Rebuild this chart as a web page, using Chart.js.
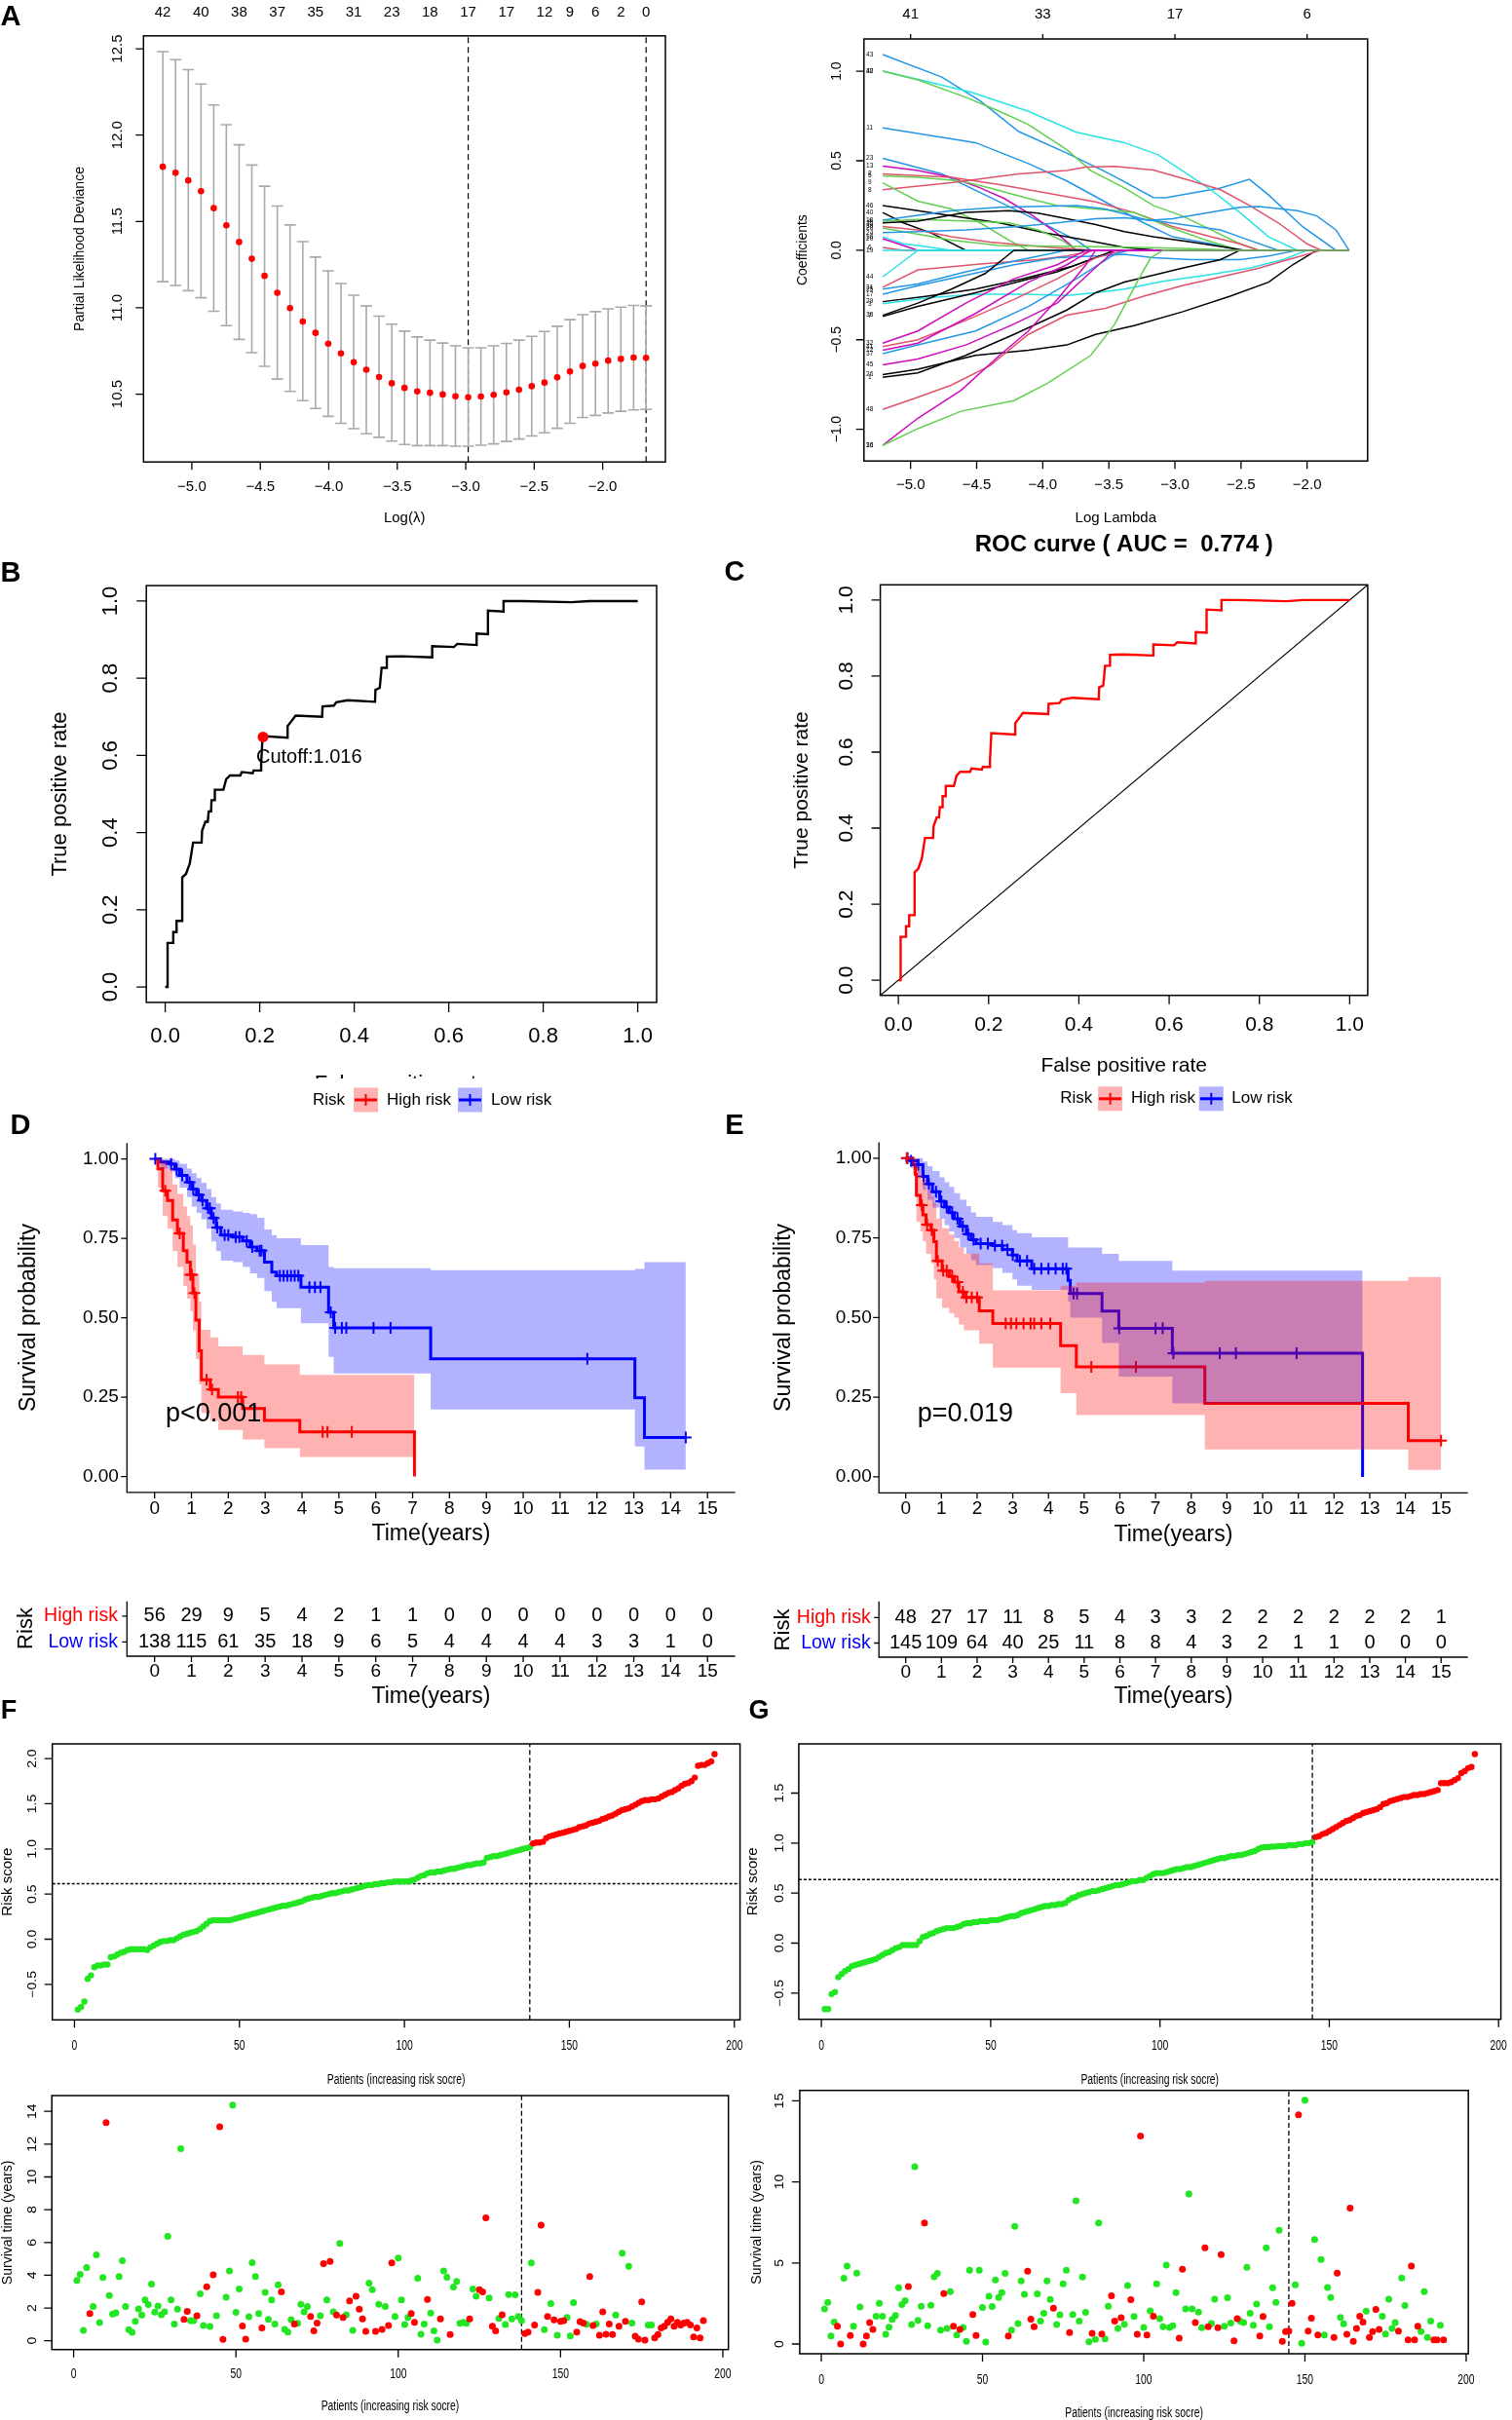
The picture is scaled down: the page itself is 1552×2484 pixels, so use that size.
<!DOCTYPE html>
<html>
<head>
<meta charset="utf-8">
<script src="https://cdn.jsdelivr.net/npm/chart.js@4.4.1/dist/chart.umd.min.js"></script>
<style>
  html, body { margin: 0; padding: 0; background: #fff; }
  #page { position: relative; width: 1552px; height: 2484px; overflow: hidden; background: #fff; }
  #page canvas { position: absolute; }
</style>
</head>
<body>
<div id="page"></div>
<script>
// ---------------- data ----------------

// A (left): cross-validated partial likelihood deviance
const cvLambda = [-5.212, -5.119, -5.026, -4.933, -4.840, -4.748, -4.655, -4.562, -4.469, -4.376,
  -4.283, -4.190, -4.097, -4.004, -3.911, -3.818, -3.726, -3.633, -3.540, -3.447,
  -3.354, -3.261, -3.168, -3.075, -2.982, -2.889, -2.796, -2.703, -2.611, -2.518,
  -2.425, -2.332, -2.239, -2.146, -2.053, -1.960, -1.867, -1.774, -1.683];
const cvMean = [11.817, 11.782, 11.738, 11.675, 11.577, 11.478, 11.381, 11.284, 11.185, 11.087,
  10.998, 10.921, 10.855, 10.792, 10.736, 10.685, 10.641, 10.599, 10.563, 10.536,
  10.516, 10.508, 10.498, 10.488, 10.482, 10.486, 10.496, 10.51, 10.526, 10.546,
  10.567, 10.597, 10.631, 10.663, 10.677, 10.694, 10.704, 10.712, 10.71];
const cvUpper = [12.484, 12.437, 12.379, 12.296, 12.175, 12.06, 11.944, 11.827, 11.704, 11.589,
  11.48, 11.383, 11.294, 11.214, 11.141, 11.073, 11.01, 10.952, 10.905, 10.865,
  10.831, 10.813, 10.796, 10.78, 10.768, 10.768, 10.78, 10.794, 10.813, 10.835,
  10.863, 10.893, 10.931, 10.96, 10.978, 10.994, 11.004, 11.014, 11.01];
const cvLower = [11.151, 11.129, 11.099, 11.058, 10.98, 10.897, 10.817, 10.74, 10.661, 10.587,
  10.516, 10.462, 10.417, 10.371, 10.331, 10.3, 10.27, 10.25, 10.228, 10.208,
  10.202, 10.202, 10.202, 10.198, 10.198, 10.204, 10.212, 10.226, 10.24, 10.258,
  10.276, 10.302, 10.331, 10.365, 10.377, 10.391, 10.401, 10.409, 10.411];
const cvTopLambda = [-5.212, -4.933, -4.655, -4.376, -4.097, -3.818, -3.540, -3.261, -2.982, -2.703, -2.425, -2.239, -2.053, -1.867, -1.683];
const cvTopNzero = [42, 40, 38, 37, 35, 31, 23, 18, 17, 17, 12, 9, 6, 2, 0];
const lambdaMin = -2.982, lambda1se = -1.683;

// A (right): coefficient paths  [label, colour index, [log lambda, coefficient] ...]
const rPalette = ['#000000', '#DF536B', '#61D04F', '#2297E6', '#28E2E5', '#CD0BBC'];
const coefPaths = [
  ['43', 3, [[-5.211, 1.093], [-4.764, 0.967], [-4.473, 0.834], [-4.182, 0.663], [-3.818, 0.543], [-3.491, 0.426], [-3.164, 0.295], [-3.073, 0.293], [-2.655, 0.348], [-2.436, 0.396], [-2.291, 0.309], [-2.036, 0.133], [-1.782, 0]]],
  ['42', 4, [[-5.211, 1.0], [-4.982, 0.961], [-4.545, 0.883], [-4.109, 0.776], [-3.745, 0.659], [-3.382, 0.601], [-3.127, 0.533], [-2.945, 0.445], [-2.727, 0.338], [-2.509, 0.211], [-2.291, 0.075], [-2.073, 0]]],
  ['30', 2, [[-5.211, 1.0], [-4.945, 0.951], [-4.582, 0.854], [-4.327, 0.776], [-4.109, 0.702], [-3.818, 0.562], [-3.636, 0.445], [-3.382, 0.348], [-3.164, 0.25], [-2.945, 0.192], [-2.727, 0.114], [-2.509, 0.036], [-2.364, 0]]],
  ['11', 3, [[-5.211, 0.683], [-4.509, 0.601], [-4.109, 0.484], [-3.818, 0.387], [-3.527, 0.27], [-3.236, 0.153], [-3.018, 0.075], [-2.727, 0.036], [-2.509, 0]]],
  ['23', 3, [[-5.211, 0.513], [-4.764, 0.426], [-4.436, 0.309], [-4.109, 0.192], [-3.745, 0.056], [-3.636, 0]]],
  ['13', 5, [[-5.211, 0.47], [-4.945, 0.445], [-4.691, 0.407], [-4.473, 0.348], [-4.291, 0.289], [-4.073, 0.192], [-3.891, 0.094], [-3.745, 0]]],
  ['2', 1, [[-5.211, 0.426], [-4.691, 0.407], [-4.327, 0.367], [-3.964, 0.319], [-3.6, 0.27], [-3.309, 0.211], [-3.018, 0.133], [-2.727, 0.075], [-2.509, 0.036], [-2.364, 0]]],
  ['5', 2, [[-5.211, 0.416], [-4.945, 0.407], [-4.618, 0.387], [-4.4, 0.348], [-4.109, 0.289], [-3.891, 0.25], [-3.6, 0.231], [-3.309, 0.211], [-3.055, 0.133], [-2.764, 0.056], [-2.509, 0]]],
  ['8', 1, [[-5.211, 0.338], [-4.691, 0.377], [-4.182, 0.426], [-3.818, 0.445], [-3.673, 0.464], [-3.455, 0.468], [-3.164, 0.448], [-2.873, 0.387], [-2.655, 0.338], [-2.436, 0.25], [-2.218, 0.153], [-2.0, 0.036], [-1.891, 0]]],
  ['9', 2, [[-5.211, 0.377], [-4.945, 0.274], [-4.691, 0.231], [-4.473, 0.153], [-4.255, 0.056], [-4.109, 0]]],
  ['46', 0, [[-5.211, 0.25], [-4.945, 0.221], [-4.691, 0.192], [-4.327, 0.153], [-3.964, 0.094], [-3.673, 0.056], [-3.382, 0.016], [-3.127, 0]]],
  ['40', 0, [[-5.211, 0.211], [-5.055, 0.153], [-4.836, 0.094], [-4.582, 0]]],
  ['18', 3, [[-5.211, 0.168], [-4.691, 0.221], [-4.327, 0.24], [-3.745, 0.25], [-3.527, 0.231], [-3.2, 0.167], [-3.018, 0.176], [-2.509, 0.24], [-2.364, 0.244], [-2.073, 0.221], [-1.927, 0.192], [-1.782, 0.114], [-1.683, 0]]],
  ['4', 2, [[-5.211, 0.163], [-4.945, 0.172], [-4.545, 0.163], [-4.255, 0.153], [-4.036, 0.114], [-3.855, 0.056], [-3.745, 0]]],
  ['35', 0, [[-5.211, 0.153], [-4.945, 0.163], [-4.582, 0.211], [-4.255, 0.221], [-4.036, 0.207], [-3.818, 0.176], [-3.6, 0.143], [-3.382, 0.104], [-3.164, 0.075], [-2.873, 0.046], [-2.582, 0.013], [-2.473, 0]]],
  ['39', 1, [[-5.211, 0.133], [-4.945, 0.114], [-4.691, 0.075], [-4.4, 0.046], [-4.109, 0.026], [-3.891, 0.013], [-3.6, 0]]],
  ['28', 2, [[-5.211, 0.124], [-4.691, 0.056], [-4.327, 0.026], [-3.6, 0.02], [-3.236, 0.016], [-2.873, 0.009], [-2.509, 0]]],
  ['24', 3, [[-5.211, 0.098], [-4.945, 0.104], [-4.582, 0.114], [-4.182, 0.133], [-3.891, 0.153], [-3.6, 0.176], [-3.382, 0.182], [-3.164, 0.167], [-2.655, 0.114], [-2.509, 0.075], [-2.218, 0]]],
  ['16', 4, [[-5.211, 0.075], [-5.055, 0.036], [-4.945, 0.026], [-4.691, 0]]],
  ['20', 5, [[-5.211, 0.065], [-4.945, 0]]],
  ['6', 1, [[-5.211, 0.016], [-5.055, 0]]],
  ['19', 4, [[-5.211, 0]]],
  ['44', 4, [[-5.211, -0.149], [-4.945, 0]]],
  ['31', 1, [[-5.211, -0.207], [-4.945, -0.11], [-4.473, -0.077], [-4.036, -0.052], [-3.818, -0.032], [-3.6, 0]]],
  ['25', 3, [[-5.211, -0.217], [-4.945, -0.188], [-4.582, -0.12], [-4.218, -0.061], [-3.964, -0.022], [-3.818, 0]]],
  ['17', 3, [[-5.211, -0.246], [-4.945, -0.198], [-4.582, -0.139], [-4.218, -0.081], [-3.891, -0.042], [-3.6, -0.032], [-3.382, -0.022], [-3.164, -0.042], [-2.873, -0.052], [-2.509, -0.052], [-2.291, -0.032], [-2.073, 0]]],
  ['29', 0, [[-5.211, -0.287], [-4.873, -0.256], [-4.509, -0.217], [-4.145, -0.159], [-3.782, -0.091], [-3.455, 0]]],
  ['3', 4, [[-5.211, -0.299], [-4.873, -0.266], [-4.509, -0.246], [-4.145, -0.246], [-3.818, -0.252], [-3.6, -0.237], [-3.382, -0.217], [-3.091, -0.174], [-2.764, -0.139], [-2.436, -0.1], [-2.182, -0.052], [-2.0, 0]]],
  ['38', 0, [[-5.211, -0.363], [-4.945, -0.295], [-4.691, -0.217], [-4.436, -0.13], [-4.218, 0]]],
  ['7', 0, [[-5.211, -0.369], [-4.945, -0.314], [-4.509, -0.237], [-4.145, -0.168], [-3.891, -0.12], [-3.6, -0.042], [-3.455, 0]]],
  ['32', 5, [[-5.211, -0.519], [-4.945, -0.451], [-4.582, -0.295], [-4.218, -0.159], [-3.891, -0.081], [-3.673, 0]]],
  ['41', 1, [[-5.211, -0.538], [-4.945, -0.5], [-4.582, -0.392], [-4.218, -0.275], [-3.891, -0.159], [-3.6, -0.042], [-3.382, 0]]],
  ['12', 5, [[-5.211, -0.558], [-4.945, -0.519], [-4.509, -0.353], [-4.109, -0.178], [-3.818, -0.081], [-3.636, 0]]],
  ['37', 3, [[-5.211, -0.577], [-4.945, -0.529], [-4.509, -0.451], [-4.109, -0.314], [-3.745, -0.159], [-3.455, -0.022], [-3.345, 0]]],
  ['45', 5, [[-5.211, -0.64], [-4.945, -0.607], [-4.582, -0.529], [-4.218, -0.412], [-3.891, -0.295], [-3.636, -0.12], [-3.455, 0]]],
  ['26', 0, [[-5.211, -0.694], [-4.945, -0.665], [-4.509, -0.587], [-4.109, -0.558], [-3.818, -0.529], [-3.6, -0.47], [-3.309, -0.421], [-2.945, -0.344], [-2.582, -0.256], [-2.291, -0.178], [-2.109, -0.081], [-1.927, 0]]],
  ['1', 0, [[-5.211, -0.71], [-4.945, -0.685], [-4.582, -0.587], [-4.218, -0.47], [-3.818, -0.334], [-3.6, -0.237], [-3.382, -0.178], [-3.164, -0.139], [-2.945, -0.1], [-2.655, -0.052], [-2.509, 0]]],
  ['48', 1, [[-5.211, -0.889], [-4.945, -0.821], [-4.691, -0.753], [-4.4, -0.645], [-4.109, -0.47], [-3.818, -0.363], [-3.527, -0.324], [-3.236, -0.256], [-2.945, -0.198], [-2.655, -0.149], [-2.364, -0.1], [-2.145, -0.052], [-1.891, 0]]],
  ['36', 5, [[-5.211, -1.09], [-4.945, -0.938], [-4.618, -0.782], [-4.327, -0.587], [-4.109, -0.451], [-3.891, -0.275], [-3.673, -0.081], [-3.6, 0]]],
  ['10', 2, [[-5.211, -1.09], [-4.945, -0.996], [-4.618, -0.899], [-4.218, -0.84], [-3.964, -0.743], [-3.636, -0.587], [-3.455, -0.412], [-3.273, -0.159], [-3.182, -0.042], [-3.091, 0]]]
];
const pathTopLambda = [-5, -4, -3, -2];
const pathTopNzero = [41, 33, 17, 6];

// B / C: ROC curve
const rocFpr = [0, 0.005, 0.005, 0.017, 0.017, 0.024, 0.024, 0.036, 0.036, 0.044,
  0.052, 0.059, 0.077, 0.078, 0.085, 0.09, 0.092, 0.097, 0.098, 0.104,
  0.105, 0.123, 0.129, 0.137, 0.159, 0.162, 0.185, 0.187, 0.203, 0.203,
  0.206, 0.259, 0.259, 0.276, 0.332, 0.333, 0.357, 0.362, 0.386, 0.444,
  0.445, 0.454, 0.458, 0.469, 0.469, 0.5, 0.565, 0.565, 0.611, 0.618,
  0.659, 0.659, 0.683, 0.683, 0.716, 0.716, 0.757, 0.859, 0.898, 1.0];
const rocTpr = [0, 0, 0.114, 0.114, 0.142, 0.142, 0.171, 0.171, 0.284, 0.293,
  0.32, 0.374, 0.374, 0.405, 0.428, 0.428, 0.455, 0.455, 0.484, 0.484,
  0.511, 0.511, 0.538, 0.548, 0.548, 0.557, 0.554, 0.561, 0.561, 0.577,
  0.65, 0.646, 0.676, 0.703, 0.7, 0.727, 0.729, 0.738, 0.743, 0.739,
  0.77, 0.775, 0.827, 0.827, 0.856, 0.857, 0.854, 0.883, 0.881, 0.889,
  0.886, 0.916, 0.914, 0.975, 0.973, 1.0, 1.0, 0.997, 1.0, 1.0];
const cutoffPoint = [0.207, 0.648];
const cutoffValue = '1.016';
const aucValue = '0.774';

// D: Kaplan-Meier, training set
const kmDHighT = [0, 0.09, 0.22, 0.35, 0.49, 0.62, 0.78, 0.88, 0.97, 1.04, 1.12, 1.21, 1.27, 1.51, 1.73, 2.39, 2.98, 3.94, 7.05];
const kmDHighS = [1, 0.969, 0.9, 0.869, 0.808, 0.766, 0.711, 0.675, 0.635, 0.578, 0.493, 0.396, 0.305, 0.274, 0.25, 0.214, 0.177, 0.141, 0];
const kmDHighU = [1, 1, 0.99, 0.97, 0.92, 0.89, 0.85, 0.82, 0.79, 0.73, 0.64, 0.55, 0.462, 0.438, 0.41, 0.383, 0.353, 0.32, 0.32];
const kmDHighL = [1, 0.91, 0.82, 0.78, 0.71, 0.66, 0.6, 0.56, 0.52, 0.46, 0.37, 0.29, 0.2, 0.175, 0.147, 0.117, 0.089, 0.062, 0.062];
const kmDHighCens = [0.29, 0.68, 0.97, 1.01, 1.08, 1.41, 1.56, 2.26, 2.35, 4.56, 4.69, 5.35];
const kmDLowT = [0, 0.16, 0.42, 0.55, 0.68, 0.88, 1.01, 1.14, 1.27, 1.41, 1.54, 1.67, 1.8, 2.13, 2.39, 2.59, 2.78, 2.98, 3.18, 3.31, 3.97, 4.72, 4.86, 7.49, 13.03, 13.29, 14.41];
const kmDLowS = [1, 0.99, 0.984, 0.968, 0.948, 0.927, 0.905, 0.887, 0.869, 0.845, 0.814, 0.784, 0.76, 0.754, 0.742, 0.723, 0.711, 0.675, 0.644, 0.632, 0.596, 0.517, 0.468, 0.371, 0.248, 0.123, 0.123];
const kmDLowU = [1, 1, 1, 0.995, 0.985, 0.97, 0.955, 0.94, 0.925, 0.905, 0.88, 0.86, 0.84, 0.835, 0.83, 0.826, 0.815, 0.778, 0.76, 0.75, 0.729, 0.66, 0.656, 0.65, 0.654, 0.675, 0.675];
const kmDLowL = [1, 0.97, 0.96, 0.94, 0.91, 0.88, 0.85, 0.83, 0.81, 0.78, 0.74, 0.71, 0.68, 0.675, 0.66, 0.64, 0.625, 0.584, 0.55, 0.53, 0.483, 0.377, 0.325, 0.211, 0.095, 0.022, 0.022];
const kmDLowCens = [0.02, 0.45, 0.6, 0.75, 0.95, 1.05, 1.2, 1.3, 1.45, 1.5, 1.6, 1.7, 1.9, 2.0, 2.2, 2.3, 2.5, 2.65, 2.85, 2.9, 3.4, 3.5, 3.6, 3.7, 3.8, 3.9, 4.2, 4.35, 4.5, 4.78, 4.9, 5.08, 5.2, 5.94, 6.4, 11.74, 14.41];

// E: Kaplan-Meier, test set
const kmEHighT = [0, 0.2, 0.27, 0.3, 0.41, 0.48, 0.57, 0.71, 0.79, 0.86, 1.02, 1.22, 1.36, 1.49, 1.63, 2.06, 2.44, 4.34, 4.78, 8.38, 14.08, 15.0];
const kmEHighS = [1, 0.98, 0.949, 0.883, 0.853, 0.822, 0.792, 0.774, 0.738, 0.678, 0.647, 0.629, 0.611, 0.581, 0.563, 0.521, 0.481, 0.412, 0.345, 0.231, 0.114, 0.114];
const kmEHighU = [1, 1, 1, 0.97, 0.95, 0.93, 0.9, 0.88, 0.86, 0.81, 0.78, 0.76, 0.74, 0.72, 0.7, 0.67, 0.585, 0.6, 0.61, 0.615, 0.627, 0.627];
const kmEHighL = [1, 0.95, 0.9, 0.8, 0.77, 0.74, 0.7, 0.67, 0.62, 0.56, 0.53, 0.514, 0.5, 0.478, 0.46, 0.418, 0.343, 0.263, 0.194, 0.086, 0.022, 0.022];
const kmEHighCens = [0.03, 0.45, 0.6, 0.73, 0.9, 1.05, 1.15, 1.3, 1.45, 1.6, 1.7, 1.85, 2.0, 2.8, 2.95, 3.1, 3.3, 3.5, 3.6, 3.8, 4.05, 5.2, 6.45, 15.0];
const kmELowT = [0, 0.14, 0.34, 0.48, 0.61, 0.75, 0.95, 1.09, 1.22, 1.36, 1.52, 1.7, 1.83, 1.97, 2.44, 2.71, 2.99, 3.12, 3.53, 4.55, 4.61, 5.5, 5.97, 7.47, 12.8];
const kmELowS = [1, 0.992, 0.98, 0.943, 0.919, 0.895, 0.865, 0.847, 0.829, 0.81, 0.786, 0.762, 0.744, 0.732, 0.726, 0.714, 0.696, 0.678, 0.653, 0.617, 0.575, 0.52, 0.466, 0.388, 0];
const kmELowU = [1, 1, 1, 0.99, 0.975, 0.96, 0.94, 0.925, 0.91, 0.89, 0.87, 0.85, 0.83, 0.816, 0.8, 0.79, 0.774, 0.765, 0.752, 0.72, 0.72, 0.7, 0.678, 0.647, 0.647];
const kmELowL = [1, 0.97, 0.95, 0.9, 0.87, 0.845, 0.81, 0.79, 0.77, 0.75, 0.72, 0.7, 0.68, 0.665, 0.655, 0.64, 0.62, 0.6, 0.587, 0.55, 0.5, 0.42, 0.315, 0.231, 0.231];
const kmELowCens = [0.05, 0.15, 0.35, 0.5, 0.65, 0.85, 1.0, 1.15, 1.3, 1.45, 1.6, 1.75, 1.9, 2.1, 2.3, 2.5, 2.7, 2.85, 3.0, 3.2, 3.4, 3.6, 3.8, 4.0, 4.2, 4.4, 4.5, 4.7, 4.8, 5.98, 7.0, 7.2, 7.5, 8.8, 9.25, 10.95];

// risk tables
const tabTimes = [0, 1, 2, 3, 4, 5, 6, 7, 8, 9, 10, 11, 12, 13, 14, 15];
const tabDHigh = [56, 29, 9, 5, 4, 2, 1, 1, 0, 0, 0, 0, 0, 0, 0, 0];
const tabDLow = [138, 115, 61, 35, 18, 9, 6, 5, 4, 4, 4, 4, 3, 3, 1, 0];
const tabEHigh = [48, 27, 17, 11, 8, 5, 4, 3, 3, 2, 2, 2, 2, 2, 2, 1];
const tabELow = [145, 109, 64, 40, 25, 11, 8, 8, 4, 3, 2, 1, 1, 0, 0, 0];

// F: training set risk score (sorted), survival time and status (1 = dead)
const riskF = [-0.78, -0.75, -0.69, -0.44, -0.4, -0.31, -0.29, -0.29, -0.28, -0.28,
  -0.2, -0.19, -0.17, -0.15, -0.14, -0.12, -0.11, -0.11, -0.11, -0.11,
  -0.11, -0.12, -0.09, -0.07, -0.05, -0.03, -0.02, -0.02, -0.01, -0.01,
  0.01, 0.03, 0.05, 0.06, 0.07, 0.08, 0.09, 0.11, 0.14, 0.17,
  0.2, 0.21, 0.21, 0.21, 0.21, 0.21, 0.21, 0.22, 0.23, 0.24,
  0.25, 0.26, 0.27, 0.28, 0.29, 0.3, 0.31, 0.32, 0.33, 0.34,
  0.35, 0.36, 0.37, 0.37, 0.38, 0.39, 0.4, 0.41, 0.42, 0.44,
  0.45, 0.46, 0.47, 0.47, 0.48, 0.49, 0.5, 0.51, 0.51, 0.52,
  0.53, 0.54, 0.54, 0.55, 0.56, 0.57, 0.58, 0.59, 0.6, 0.6,
  0.61, 0.61, 0.62, 0.62, 0.63, 0.63, 0.64, 0.64, 0.64, 0.64,
  0.64, 0.65, 0.66, 0.68, 0.7, 0.71, 0.73, 0.74, 0.74, 0.75,
  0.75, 0.76, 0.77, 0.78, 0.78, 0.79, 0.8, 0.81, 0.82, 0.82,
  0.83, 0.84, 0.84, 0.85, 0.9, 0.91, 0.92, 0.92, 0.93, 0.94,
  0.95, 0.96, 0.97, 0.98, 0.99, 1.0, 1.01, 1.02,
  1.06, 1.07, 1.07, 1.08, 1.12, 1.14, 1.15, 1.16, 1.17, 1.18, 1.19, 1.2,
  1.21, 1.22, 1.24, 1.25, 1.26, 1.28, 1.29, 1.3, 1.31, 1.33,
  1.34, 1.36, 1.37, 1.39, 1.41, 1.43, 1.44, 1.45, 1.47, 1.49,
  1.51, 1.53, 1.54, 1.54, 1.55, 1.55, 1.56, 1.58, 1.6, 1.62,
  1.63, 1.65, 1.67, 1.7, 1.72, 1.73, 1.75, 1.79, 1.92, 1.93,
  1.93, 1.95, 1.97, 2.05];
const lowCountF = 138, cutLineF = 0.615;
const timeF = [3.68, 4.06, 0.64, 4.47, 1.67, 2.09, 5.25, 1.11, 3.86, 13.32,
  2.76, 1.63, 1.71, 3.92, 4.89, 2.09, 0.68, 0.52, 1.19, 1.95,
  1.57, 2.5, 2.21, 3.46, 1.75, 2.13, 1.59, 1.77, 6.38, 2.5,
  1.03, 1.93, 11.73, 1.31, 1.79, 1.23, 1.23, 1.53, 2.86, 0.93,
  3.3, 0.87, 4.02, 1.53, 13.06, 0.08, 2.66, 4.27, 14.39, 1.73,
  3.16, 0.91, 0.1, 1.47, 4.77, 3.92, 1.67, 0.78, 2.96, 1.31,
  2.5, 1.03, 3.42, 2.98, 0.7, 0.54, 1.29, 1.03, 1.07, 2.23,
  1.77, 2.09, 1.49, 0.6, 1.09, 1.53, 4.71, 2.5, 4.85, 1.77,
  1.57, 5.94, 1.43, 1.59, 2.43, 0.64, 2.72, 1.93, 1.33, 0.58,
  3.52, 3.12, 0.58, 2.23, 0.7, 2.09, 0.93, 4.75, 1.49, 5.05,
  2.49, 0.99, 1.43, 1.67, 1.13, 3.82, 0.4, 1.03, 2.52, 1.69,
  0.6, 0.04, 1.33, 4.27, 3.88, 0.38, 3.28, 3.62, 1.07, 1.13,
  1.07, 1.33, 3.16, 2.72, 3.12, 2.98, 7.5, 2.62, 0.89, 0.6,
  1.37, 1.59, 0.99, 2.82, 1.33, 2.8, 1.49, 1.23, 0.44, 0.54,
  4.75, 0.97, 2.96, 7.06, 0.68, 1.49, 2.27, 1.27, 0.34, 1.19,
  1.23, 1.43, 0.3, 2.33, 0.54, 1.17, 1.09, 1.01, 3.92, 0.93,
  1.03, 0.34, 1.77, 0.4, 1.03, 0.38, 1.57, 0.89, 5.35, 1.19,
  4.55, 1.09, 0.28, 0.1, 2.37, 0.04, 0.97, 0.97, 0.18, 0.38,
  0.78, 0.89, 1.13, 1.33, 0.89, 1.13, 0.97, 1.09, 1.13, 0.97,
  0.24, 0.78, 0.18, 1.23];
const statusF = [0, 0, 0, 0, 1, 0, 0, 0, 0, 1,
  0, 0, 0, 0, 0, 0, 0, 0, 0, 0,
  0, 0, 0, 0, 0, 0, 0, 0, 0, 0,
  0, 0, 0, 1, 1, 0, 0, 1, 0, 0,
  1, 0, 1, 0, 1, 1, 0, 0, 0, 0,
  0, 1, 1, 0, 0, 0, 0, 1, 0, 0,
  0, 0, 0, 1, 0, 0, 0, 1, 0, 0,
  0, 0, 1, 1, 1, 0, 1, 0, 1, 0,
  1, 0, 1, 0, 1, 0, 1, 1, 1, 1,
  0, 0, 1, 0, 1, 0, 1, 1, 0, 0,
  0, 0, 0, 1, 1, 0, 0, 0, 1, 0,
  0, 0, 1, 0, 0, 1, 0, 0, 0, 0,
  0, 1, 0, 0, 1, 1, 1, 0, 1, 1,
  0, 1, 0, 0, 0, 0, 0, 0, 1, 1,
  0, 1, 1, 1, 0, 1, 0, 1, 0, 1,
  1, 0, 0, 0, 1, 1, 1, 0, 1, 1,
  0, 1, 1, 1, 1, 1, 0, 1, 0, 1,
  0, 0, 1, 1, 1, 1, 0, 0, 1, 1,
  1, 1, 1, 1, 1, 1, 1, 1, 1, 1,
  1, 1, 1, 1];

// G: test set
const riskG = [-0.66, -0.66, -0.51, -0.49, -0.34, -0.31, -0.28, -0.26, -0.23, -0.22,
  -0.21, -0.2, -0.19, -0.18, -0.17, -0.16, -0.14, -0.12, -0.1, -0.09,
  -0.07, -0.05, -0.04, -0.02, -0.02, -0.02, -0.02, -0.02, 0.02, 0.06,
  0.07, 0.09, 0.1, 0.12, 0.13, 0.14, 0.15, 0.15, 0.15, 0.16,
  0.17, 0.19, 0.2, 0.2, 0.21, 0.21, 0.22, 0.22, 0.22, 0.23,
  0.23, 0.23, 0.24, 0.25, 0.26, 0.27, 0.27, 0.28, 0.3, 0.31,
  0.32, 0.33, 0.34, 0.35, 0.36, 0.37, 0.37, 0.38, 0.38, 0.39,
  0.39, 0.4, 0.43, 0.45, 0.46, 0.48, 0.49, 0.5, 0.51, 0.52,
  0.52, 0.53, 0.54, 0.55, 0.56, 0.57, 0.58, 0.58, 0.59, 0.6,
  0.61, 0.62, 0.62, 0.63, 0.63, 0.65, 0.67, 0.69, 0.7, 0.7,
  0.7, 0.71, 0.72, 0.73, 0.74, 0.74, 0.75, 0.76, 0.76, 0.77,
  0.78, 0.79, 0.8, 0.81, 0.82, 0.83, 0.84, 0.85, 0.85, 0.86,
  0.87, 0.87, 0.88, 0.88, 0.89, 0.9, 0.91, 0.92, 0.94, 0.955,
  0.96, 0.96, 0.965, 0.965, 0.97, 0.97, 0.97, 0.98, 0.98, 0.98,
  0.99, 0.99, 1.0, 1.0, 1.01,
  1.06, 1.07, 1.09, 1.1, 1.12,
  1.14, 1.16, 1.18, 1.2, 1.22, 1.23, 1.25, 1.27, 1.28, 1.3,
  1.31, 1.32, 1.33, 1.34, 1.36, 1.39, 1.4, 1.42, 1.43, 1.44,
  1.45, 1.46, 1.46, 1.47, 1.48, 1.48, 1.49, 1.49, 1.5, 1.51,
  1.52, 1.53, 1.6, 1.6, 1.6, 1.61, 1.63, 1.65, 1.7, 1.72,
  1.75, 1.76, 1.89];
const lowCountG = 145, cutLineG = 0.635;
const timeG = [2.17, 2.57, 0.5, 1.36, 1.1, 0.0, 4.05, 4.81, 0.52, 1.1,
  4.37, 2.29, 0.0, 0.5, 1.32, 0.9, 1.72, 2.51, 1.72, 0.6,
  1.04, 1.52, 1.76, 3.47, 2.43, 2.67, 3.55, 1.2, 10.93, 1.46,
  2.33, 7.46, 1.12, 2.39, 4.15, 4.35, 0.86, 3.11, 0.96, 3.23,
  1.1, 0.56, 0.9, 1.02, 0.16, 4.55, 1.82, 0.52, 4.55, 2.25,
  0.12, 2.95, 2.31, 3.95, 2.87, 3.17, 4.35, 0.5, 0.86, 7.26,
  1.26, 3.89, 3.07, 4.49, 1.54, 1.06, 3.09, 1.42, 1.9, 3.89,
  2.75, 2.21, 1.2, 1.8, 3.71, 4.55, 0.7, 1.82, 8.84, 1.42,
  4.13, 1.95, 0.14, 0.66, 0.28, 7.46, 0.62, 0.32, 2.33, 2.97,
  1.42, 0.96, 1.62, 1.22, 3.61, 2.73, 1.7, 0.6, 12.83, 1.02,
  0.56, 2.05, 1.72, 3.71, 1.56, 1.06, 4.87, 1.02, 1.12, 3.17,
  0.36, 4.61, 2.17, 9.26, 2.17, 1.32, 1.97, 1.0, 5.94, 1.06,
  1.26, 2.77, 1.0, 5.51, 1.1, 2.85, 1.3, 0.2, 1.56, 1.4,
  1.32, 4.73, 1.9, 1.16, 2.47, 0.5, 1.7, 5.94, 1.06, 3.47,
  2.57, 7.02, 0.16, 0.76, 0.8, 2.51, 3.65, 14.14, 0.04, 15.04,
  0.8, 1.6, 6.44, 0.56, 5.21, 0.56, 3.49, 2.87, 0.4, 4.37,
  1.64, 1.24, 0.6, 8.38, 0.16, 0.96, 1.72, 1.36, 2.03, 0.4,
  0.76, 2.13, 0.9, 1.72, 0.62, 2.77, 0.96, 1.32, 0.8, 4.07,
  2.37, 0.26, 4.81, 0.26, 1.1, 0.76, 3.23, 0.4, 1.42, 0.26,
  0.26, 1.16, 0.26];
const statusG = [0, 0, 0, 0, 1, 1, 0, 0, 1, 0,
  0, 0, 1, 1, 1, 1, 0, 0, 0, 0,
  0, 0, 0, 0, 0, 0, 1, 0, 0, 0,
  0, 1, 0, 0, 0, 0, 0, 1, 0, 0,
  1, 0, 1, 0, 0, 0, 1, 1, 0, 0,
  0, 0, 0, 0, 0, 0, 0, 1, 0, 0,
  0, 0, 0, 1, 1, 1, 0, 0, 0, 0,
  0, 1, 0, 0, 0, 0, 1, 0, 0, 0,
  0, 0, 0, 1, 0, 0, 1, 0, 0, 1,
  1, 0, 1, 0, 0, 1, 0, 1, 1, 0,
  1, 0, 1, 0, 0, 0, 0, 0, 0, 0,
  1, 1, 0, 0, 0, 1, 0, 0, 1, 1,
  0, 0, 1, 1, 0, 0, 0, 1, 1, 0,
  0, 0, 0, 0, 0, 1, 1, 0, 0, 0,
  0, 0, 1, 1, 1, 1, 0, 1, 0, 0,
  1, 1, 0, 1, 0, 0, 0, 0, 1, 1,
  0, 0, 1, 1, 1, 1, 1, 1, 0, 1,
  1, 1, 1, 0, 0, 0, 0, 0, 1, 0,
  0, 1, 1, 1, 1, 0, 0, 0, 0, 1,
  1, 0, 1];

// ---------------- drawing helpers ----------------
const FONT = "'Liberation Sans', Arial, Helvetica, sans-serif";
const RED = '#FF0000', BLUE = '#0000FF', GREEN = '#22E622';
const page = document.getElementById('page');

const pts = (xs, ys) => xs.map((x, i) => ({ x: x, y: ys[i] }));
const minus = s => String(s).replace('-', '\u2212');

function T(ctx, s, x, y, size, o) {
  o = o || {};
  ctx.save();
  ctx.translate(x, y);
  if (o.sx) ctx.scale(o.sx, 1);
  if (o.rot) ctx.rotate(o.rot);
  ctx.font = (o.bold ? 'bold ' : '') + size + 'px ' + FONT;
  ctx.fillStyle = o.color || '#000';
  ctx.textAlign = o.align || 'center';
  ctx.textBaseline = o.base || 'middle';
  ctx.fillText(s, 0, 0);
  ctx.restore();
}

function lineDs(data, color, width, extra) {
  return Object.assign({ data: data, showLine: true, borderColor: color, borderWidth: width,
    pointRadius: 0, fill: false, spanGaps: false }, extra || {});
}
function dotDs(data, color, r, extra) {
  return Object.assign({ data: data, showLine: false, pointRadius: r, pointBackgroundColor: color,
    pointBorderColor: color, pointBorderWidth: 0 }, extra || {});
}

// one canvas per panel; the plot box is placed through the layout padding
function panel(rect, box, xr, yr, datasets, draw) {
  const cv = document.createElement('canvas');
  cv.width = rect[2]; cv.height = rect[3];
  cv.style.left = rect[0] + 'px'; cv.style.top = rect[1] + 'px';
  cv.style.width = rect[2] + 'px'; cv.style.height = rect[3] + 'px';
  page.appendChild(cv);
  return new Chart(cv, {
    type: 'scatter',
    data: { datasets: datasets },
    options: {
      responsive: false, animation: false, devicePixelRatio: 1, events: [],
      layout: { padding: { left: box[0] - rect[0], top: box[1] - rect[1],
        right: rect[0] + rect[2] - box[2], bottom: rect[1] + rect[3] - box[3] } },
      plugins: { legend: { display: false }, tooltip: { enabled: false } },
      scales: {
        x: { type: 'linear', min: xr[0], max: xr[1], display: false },
        y: { type: 'linear', min: yr[0], max: yr[1], display: false }
      }
    },
    plugins: [{
      id: 'rdraw',
      afterDraw(ch) {
        const ctx = ch.ctx, a = ch.chartArea, sx = ch.scales.x, sy = ch.scales.y;
        const h = {
          X: v => sx.getPixelForValue(v) + rect[0], Y: v => sy.getPixelForValue(v) + rect[1],
          l: a.left + rect[0], r: a.right + rect[0], t: a.top + rect[1], b: a.bottom + rect[1]
        };
        ctx.save();
        ctx.translate(-rect[0], -rect[1]);
        draw(ctx, h);
        ctx.restore();
      }
    }]
  });
}

function rBox(ctx, h, lw) {
  ctx.lineWidth = lw; ctx.strokeStyle = '#000';
  ctx.strokeRect(h.l, h.t, h.r - h.l, h.b - h.t);
}
function rBottom(ctx, h, vals, labs, o) {
  ctx.lineWidth = o.lw || 1.3; ctx.strokeStyle = '#000';
  ctx.beginPath();
  vals.forEach(v => { ctx.moveTo(h.X(v), h.b); ctx.lineTo(h.X(v), h.b + o.len); });
  ctx.stroke();
  vals.forEach((v, i) => T(ctx, labs[i], h.X(v), o.at, o.size, { sx: o.sx }));
}
function rLeft(ctx, h, vals, labs, o) {
  ctx.lineWidth = o.lw || 1.3; ctx.strokeStyle = '#000';
  ctx.beginPath();
  vals.forEach(v => { ctx.moveTo(h.l, h.Y(v)); ctx.lineTo(h.l - o.len, h.Y(v)); });
  ctx.stroke();
  vals.forEach((v, i) => T(ctx, labs[i], o.at, h.Y(v), o.size, { sx: o.sx, rot: -Math.PI / 2 }));
}
function stepAt(ts, ss, t) {
  let v = ss[0];
  for (let i = 0; i < ts.length; i++) if (ts[i] <= t) v = ss[i];
  return v;
}

// ---------------- A (left): CV deviance ----------------
(function () {
  const xr = [-5.353, -1.542], yr = [10.107, 12.575], cap = 0.042;
  const bars = [];
  cvLambda.forEach((l, i) => {
    bars.push({ x: l, y: cvLower[i] }, { x: l, y: cvUpper[i] }, { x: l, y: null });
    bars.push({ x: l - cap, y: cvUpper[i] }, { x: l + cap, y: cvUpper[i] }, { x: l, y: null });
    bars.push({ x: l - cap, y: cvLower[i] }, { x: l + cap, y: cvLower[i] }, { x: l, y: null });
  });
  const ds = [
    dotDs(pts(cvLambda, cvMean), RED, 3.3),
    lineDs(bars, '#A9A9A9', 1.6),
    lineDs([{ x: lambdaMin, y: yr[0] }, { x: lambdaMin, y: yr[1] }], '#000', 1.2, { borderDash: [6, 4] }),
    lineDs([{ x: lambda1se, y: yr[0] }, { x: lambda1se, y: yr[1] }], '#000', 1.2, { borderDash: [6, 4] })
  ];
  const xt = [-5, -4.5, -4, -3.5, -3, -2.5, -2], yt = [10.5, 11, 11.5, 12, 12.5];
  panel([0, 0, 770, 560], [147.3, 36.8, 683, 474.2], xr, yr, ds, (ctx, h) => {
    rBox(ctx, h, 1.5);
    rBottom(ctx, h, xt, xt.map(v => minus(v.toFixed(1))), { len: 8, at: 499.8, size: 15 });
    rLeft(ctx, h, yt, yt.map(v => v.toFixed(1)), { len: 8, at: 120.5, size: 15 });
    cvTopLambda.forEach((l, i) => T(ctx, String(cvTopNzero[i]), h.X(l), 13.3, 15));
    T(ctx, 'Partial Likelihood Deviance', 82.6, (h.t + h.b) / 2, 14, { rot: -Math.PI / 2 });
    T(ctx, 'Log(\u03BB)', (h.l + h.r) / 2, 531.4, 15);
    T(ctx, 'A', 11, 18, 29, { bold: true });
  });
})();

// ---------------- A (right): coefficient paths ----------------
(function () {
  const xr = [-5.353, -1.542], yr = [-1.177, 1.18];
  const last = cvLambda[cvLambda.length - 1];
  const ds = coefPaths.map(p => {
    const d = p[2].map(q => ({ x: q[0], y: q[1] }));
    if (d[d.length - 1].x < last) d.push({ x: last, y: 0 });
    return lineDs(d, rPalette[p[1]], 1.5);
  }).reverse();
  const xt = [-5, -4.5, -4, -3.5, -3, -2.5, -2], yt = [-1, -0.5, 0, 0.5, 1];
  panel([770, 0, 782, 560], [886.8, 40, 1403.8, 473.2], xr, yr, ds, (ctx, h) => {
    rBox(ctx, h, 1.5);
    rBottom(ctx, h, xt, xt.map(v => minus(v.toFixed(1))), { len: 8, at: 498.2, size: 15 });
    rLeft(ctx, h, yt, yt.map(v => minus(v.toFixed(1))), { len: 8, at: 858.8, size: 14 });
    ctx.beginPath();
    pathTopLambda.forEach(l => { ctx.moveTo(h.X(l), h.t); ctx.lineTo(h.X(l), h.t - 5); });
    ctx.stroke();
    pathTopLambda.forEach((l, i) => T(ctx, String(pathTopNzero[i]), h.X(l), 15, 15));
    coefPaths.forEach(p => T(ctx, p[0], 892.7, h.Y(p[2][0][1]), 6.5));
    T(ctx, 'Coefficients', 824.3, (h.t + h.b) / 2, 14, { rot: -Math.PI / 2 });
    T(ctx, 'Log Lambda', (h.l + h.r) / 2, 532, 15);
  });
})();

// ---------------- B: ROC with cutoff ----------------
(function () {
  const r = [-0.04, 1.04], t = [0, 0.2, 0.4, 0.6, 0.8, 1.0];
  const ds = [
    dotDs([{ x: cutoffPoint[0], y: cutoffPoint[1] }], RED, 5.5),
    lineDs(pts(rocFpr, rocTpr), '#000', 2.4)
  ];
  panel([0, 560, 770, 547], [150.2, 601.1, 674, 1028.9], r, r, ds, (ctx, h) => {
    rBox(ctx, h, 1.5);
    rBottom(ctx, h, t, t.map(v => v.toFixed(1)), { len: 10, at: 1063.6, size: 22 });
    rLeft(ctx, h, t, t.map(v => v.toFixed(1)), { len: 10, at: 114.4, size: 22 });
    T(ctx, 'True positive rate', 62.2, (h.t + h.b) / 2, 22, { rot: -Math.PI / 2 });
    T(ctx, 'False positive rate', (h.l + h.r) / 2, 1102, 22, { base: 'top' });
    T(ctx, 'Cutoff:' + cutoffValue, h.X(cutoffPoint[0]) - 7, h.Y(cutoffPoint[1]) + 21, 20, { align: 'left' });
    T(ctx, 'B', 11, 589, 29, { bold: true });
  });
})();

// ---------------- C: ROC with AUC ----------------
(function () {
  const r = [-0.04, 1.04], t = [0, 0.2, 0.4, 0.6, 0.8, 1.0];
  const ds = [
    lineDs(pts(rocFpr, rocTpr), RED, 2.4),
    lineDs([{ x: r[0], y: r[0] }, { x: r[1], y: r[1] }], '#000', 1.1)
  ];
  panel([740, 540, 812, 567], [903.6, 600.3, 1403.9, 1021.7], r, r, ds, (ctx, h) => {
    rBox(ctx, h, 1.5);
    rBottom(ctx, h, t, t.map(v => v.toFixed(1)), { len: 9, at: 1052.4, size: 21 });
    rLeft(ctx, h, t, t.map(v => v.toFixed(1)), { len: 9, at: 869.5, size: 21 });
    T(ctx, 'True positive rate', 822.9, (h.t + h.b) / 2, 21, { rot: -Math.PI / 2 });
    T(ctx, 'False positive rate', (h.l + h.r) / 2, 1093.8, 21);
    T(ctx, 'ROC curve ( AUC =  ' + aucValue + ' )', 1153.8, 559.2, 24, { bold: true });
    T(ctx, 'C', 754, 588, 29, { bold: true });
  });
})();

// ---------------- D / E: Kaplan-Meier ----------------
function kmPanel(L, groups, tab) {
  const ds = [];
  groups.forEach(g => {
    ds.push(lineDs(pts(g.t, g.u), 'rgba(0,0,0,0)', 0, { stepped: true, fill: '+1', backgroundColor: g.band, order: 0 }));
    ds.push(lineDs(pts(g.t, g.l), 'rgba(0,0,0,0)', 0, { stepped: true, order: 0 }));
  });
  groups.forEach(g => ds.push(dotDs(g.cens.map(t => ({ x: t, y: stepAt(g.t, g.s, t) })), g.col, 6,
    { pointStyle: 'cross', pointBorderWidth: 2, order: 1 })));
  groups.forEach(g => ds.push(lineDs(pts(g.t, g.s), g.col, 3, { stepped: true, order: 2 })));
  const yt = [0, 0.25, 0.5, 0.75, 1];
  panel(L.rect, L.box, [-0.75, 15.75], [-0.05, 1.05], ds, (ctx, h) => {
    ctx.strokeStyle = '#000'; ctx.lineWidth = 1.3;
    ctx.beginPath();
    ctx.moveTo(h.l, h.t); ctx.lineTo(h.l, h.b); ctx.lineTo(h.r, h.b);
    yt.forEach(v => { ctx.moveTo(h.l, h.Y(v)); ctx.lineTo(h.l - 6, h.Y(v)); });
    tabTimes.forEach(v => { ctx.moveTo(h.X(v), h.b); ctx.lineTo(h.X(v), h.b + 6); });
    ctx.stroke();
    yt.forEach(v => T(ctx, v.toFixed(2), L.ylabR, h.Y(v), 19, { align: 'right' }));
    tabTimes.forEach(v => T(ctx, String(v), h.X(v), L.xlabY, 19));
    T(ctx, 'Time(years)', (h.l + h.r) / 2, L.xtitleY, 23);
    T(ctx, 'Survival probability', L.ytitleX, (h.t + h.b) / 2, 23, { rot: -Math.PI / 2 });
    T(ctx, L.pText, h.X(L.pAt[0]), h.Y(L.pAt[1]), 27, { align: 'left' });
    T(ctx, L.letter, L.letterAt[0], L.letterAt[1], 29, { bold: true });

    // legend
    const lx = L.legX, ly = L.legY;
    T(ctx, 'Risk', lx[0], ly, 17, { align: 'left' });
    [[lx[1], groups[0]], [lx[3], groups[1]]].forEach(k => {
      const x = k[0], g = k[1];
      ctx.fillStyle = g.band; ctx.fillRect(x, ly - 12.5, 25, 25);
      ctx.strokeStyle = g.col; ctx.lineWidth = 3;
      ctx.beginPath(); ctx.moveTo(x + 1, ly); ctx.lineTo(x + 24, ly); ctx.stroke();
      ctx.lineWidth = 2;
      ctx.beginPath(); ctx.moveTo(x + 12.5, ly - 6); ctx.lineTo(x + 12.5, ly + 6); ctx.stroke();
    });
    T(ctx, groups[0].name, lx[2], ly, 17, { align: 'left' });
    T(ctx, groups[1].name, lx[4], ly, 17, { align: 'left' });

    // number at risk table
    ctx.strokeStyle = '#000'; ctx.lineWidth = 1.3;
    ctx.beginPath();
    ctx.moveTo(h.l, tab.top); ctx.lineTo(h.l, tab.axisY); ctx.lineTo(h.r, tab.axisY);
    tab.rows.forEach(y => { ctx.moveTo(h.l, y); ctx.lineTo(h.l - 5, y); });
    tabTimes.forEach(v => { ctx.moveTo(h.X(v), tab.axisY); ctx.lineTo(h.X(v), tab.axisY + 6); });
    ctx.stroke();
    groups.forEach((g, k) => {
      T(ctx, g.name, tab.rowLabR, tab.rows[k], 19.5, { align: 'right', color: g.col });
      tab.counts[k].forEach((n, i) => T(ctx, String(n), h.X(tabTimes[i]), tab.rows[k], 20));
    });
    tabTimes.forEach(v => T(ctx, String(v), h.X(v), tab.labY, 19));
    T(ctx, 'Risk', tab.riskX, tab.riskY, 22, { rot: -Math.PI / 2 });
    T(ctx, 'Time(years)', (h.l + h.r) / 2, tab.titleY, 23);
  });
}

kmPanel(
  { rect: [0, 1108, 770, 655], box: [130.3, 1173.3, 754.6, 1531.9], letter: 'D', letterAt: [21, 1155.5],
    legY: 1129, legX: [320.9, 363, 397, 470, 504], pText: 'p<0.001', pAt: [0.3, 0.195],
    ytitleX: 29.8, xtitleY: 1574.6, ylabR: 121.9, xlabY: 1548.9 },
  [
    { name: 'High risk', col: RED, band: 'rgba(255,0,0,0.3)', t: kmDHighT, s: kmDHighS, u: kmDHighU, l: kmDHighL, cens: kmDHighCens },
    { name: 'Low risk', col: BLUE, band: 'rgba(0,0,255,0.3)', t: kmDLowT, s: kmDLowS, u: kmDLowU, l: kmDLowL, cens: kmDLowCens }
  ],
  { rows: [1658.8, 1685.3], top: 1643.8, axisY: 1700, labY: 1715.8, titleY: 1742,
    riskX: 27.4, riskY: 1671.5, rowLabR: 120.9, counts: [tabDHigh, tabDLow] }
);

kmPanel(
  { rect: [740, 1108, 812, 655], box: [902.2, 1172.5, 1506.7, 1532.3], letter: 'E', letterAt: [754, 1155.5],
    legY: 1127.8, legX: [1088.2, 1127.1, 1161, 1230.8, 1264.3], pText: 'p=0.019', pAt: [0.33, 0.198],
    ytitleX: 804.9, xtitleY: 1575.8, ylabR: 894.7, xlabY: 1548.9 },
  [
    { name: 'High risk', col: RED, band: 'rgba(255,0,0,0.3)', t: kmEHighT, s: kmEHighS, u: kmEHighU, l: kmEHighL, cens: kmEHighCens },
    { name: 'Low risk', col: BLUE, band: 'rgba(0,0,255,0.3)', t: kmELowT, s: kmELowS, u: kmELowU, l: kmELowL, cens: kmELowCens }
  ],
  { rows: [1660.4, 1686.5], top: 1643.8, axisY: 1701, labY: 1717, titleY: 1742,
    riskX: 803.9, riskY: 1673, rowLabR: 893.7, counts: [tabEHigh, tabELow] }
);

// ---------------- F / G: risk score and survival status ----------------
const xPat = [0, 50, 100, 150, 200];
const SQ = 0.74;   // horizontal squeeze of the small R x labels
const SQY = 0.85;  // squeeze of the rotated y tick labels

function riskPanel(rect, box, xr, yr, scores, lowN, cut, yt, L) {
  const low = [], high = [];
  scores.forEach((v, i) => (i < lowN ? low : high).push({ x: i + 1, y: v }));
  const ds = [
    dotDs(high, RED, 3.2),
    dotDs(low, GREEN, 3.2),
    lineDs([{ x: lowN, y: yr[0] }, { x: lowN, y: yr[1] }], '#000', 1.3, { borderDash: [5, 3] }),
    lineDs([{ x: xr[0], y: cut }, { x: xr[1], y: cut }], '#000', 1.5, { borderDash: [3, 2] })
  ];
  panel(rect, box, xr, yr, ds, (ctx, h) => {
    rBox(ctx, h, 1.5);
    rBottom(ctx, h, xPat, xPat.map(String), { len: 8, at: 2100, size: 14, sx: SQ });
    rLeft(ctx, h, yt, yt.map(v => minus(v.toFixed(1))), { len: 8, at: L.ylab, size: 14, sx: SQY });
    T(ctx, 'Risk score', L.ytitle, (h.t + h.b) / 2, 15, { rot: -Math.PI / 2 });
    T(ctx, 'Patients (increasing risk socre)', (h.l + h.r) / 2, 2135, 14, { sx: SQ });
    T(ctx, L.letter, L.letterAt[0], L.letterAt[1], 27, { bold: true });
  });
}

function survPanel(rect, box, xr, yr, times, status, lowN, yt, L) {
  const alive = [], dead = [];
  times.forEach((v, i) => (status[i] ? dead : alive).push({ x: i + 1, y: v }));
  const ds = [
    dotDs(dead, RED, 3.5),
    dotDs(alive, GREEN, 3.5),
    lineDs([{ x: lowN, y: yr[0] }, { x: lowN, y: yr[1] }], '#000', 1.3, { borderDash: [5, 3] })
  ];
  panel(rect, box, xr, yr, ds, (ctx, h) => {
    rBox(ctx, h, 1.5);
    rBottom(ctx, h, xPat, xPat.map(String), { len: 8, at: L.xlab, size: 14, sx: SQ });
    rLeft(ctx, h, yt, yt.map(String), { len: 8, at: L.ylab, size: 14, sx: SQY });
    T(ctx, 'Survival time (years)', L.ytitle, (h.t + h.b) / 2, 14, { rot: -Math.PI / 2 });
    T(ctx, 'Patients (increasing risk socre)', (h.l + h.r) / 2, L.xtitle, 14, { sx: SQ });
  });
}

riskPanel([0, 1740, 770, 410], [53.7, 1790, 759.6, 2073.3], [-6.72, 201.72], [-0.893, 2.163],
  riskF, lowCountF, cutLineF, [-0.5, 0, 0.5, 1, 1.5, 2], { ylab: 33.8, ytitle: 8, letter: 'F', letterAt: [9, 1757] });
riskPanel([760, 1740, 792, 410], [819.9, 1790, 1540.6, 2072.7], [-6.68, 200.68], [-0.762, 1.992],
  riskG, lowCountG, cutLineG, [-0.5, 0, 0.5, 1, 1.5], { ylab: 800.9, ytitle: 773.3, letter: 'G', letterAt: [779, 1757] });

survPanel([0, 2130, 770, 354], [53.2, 2151, 747.7, 2411.7], [-6.72, 201.72], [-0.534, 14.964],
  timeF, statusF, lowCountF, [0, 2, 4, 6, 8, 10, 12, 14], { xlab: 2436.7, ylab: 33.8, ytitle: 8, xtitle: 2470 });
survPanel([760, 2130, 792, 354], [820.9, 2145.7, 1507.2, 2416], [-6.68, 200.68], [-0.6, 15.64],
  timeG, statusG, lowCountG, [0, 5, 10, 15], { xlab: 2442.7, ylab: 801, ytitle: 777.5, xtitle: 2476.7 });
</script>
</body>
</html>
